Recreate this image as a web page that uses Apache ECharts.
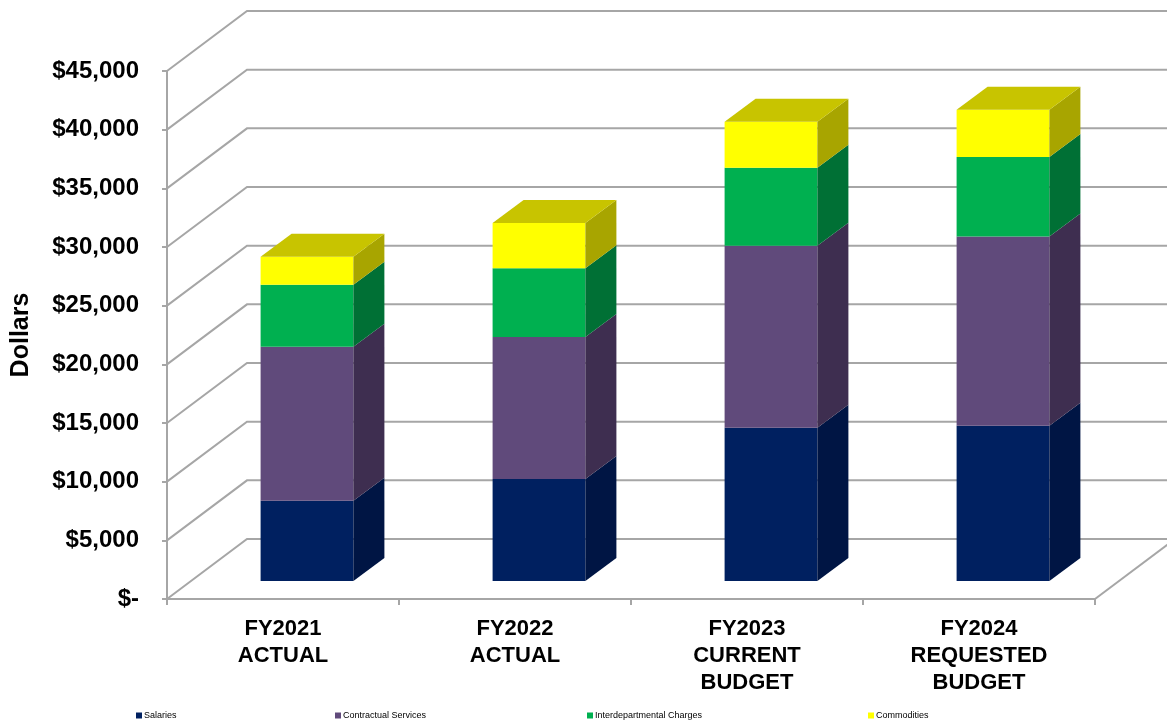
<!DOCTYPE html>
<html>
<head>
<meta charset="utf-8">
<script src="https://cdn.jsdelivr.net/npm/echarts@6/dist/echarts.min.js"></script>
<style>
html,body{margin:0;padding:0;background:#fff;}
#chart{width:1167px;height:725px;}
</style>
</head>
<body>
<div id="chart"></div>
<script>
// ---- data ----
const categories = ['FY2021\nACTUAL', 'FY2022\nACTUAL', 'FY2023\nCURRENT\nBUDGET', 'FY2024\nREQUESTED\nBUDGET'];
const seriesNames = ['Salaries', 'Contractual Services', 'Interdepartmental Charges', 'Commodities'];
const salaries = [6850, 8700, 13070, 13240];
const contractual = [13120, 12100, 15510, 16130];
const interdepartmental = [5280, 5860, 6650, 6760];
const commodities = [2390, 3860, 3920, 4040];
const yTicks = [0, 5000, 10000, 15000, 20000, 25000, 30000, 35000, 40000, 45000];

// ---- styling ----
const FRONT = ['#002060', '#604A7B', '#00B050', '#FFFF00'];
const SIDE = ['#001544', '#3E2E50', '#007035', '#A8A500'];
const TOP = ['#00184c', '#4a3860', '#008a40', '#C8C400'];
const WALL_DX = 80, WALL_DY = -60;      // depth of the 3D box
const BAR_FX = 24, BAR_FY = -18;        // offset of bar front face
const BAR_DX = 31, BAR_DY = -23;        // bar depth
const FONT = 'Liberation Sans, Arial, sans-serif';
const GRID_COLOR = '#a6a6a6';

const allSeries = [salaries, contractual, interdepartmental, commodities];
const stacked = allSeries.map((arr, s) => arr.map((v, i) => {
  let base = 0;
  for (let k = 0; k < s; k++) base += allSeries[k][i];
  return [i, base, base + v];
}));

const chart = echarts.init(document.getElementById('chart'), null, {renderer: 'canvas'});

function wallRender(params, api) {
  const cs = params.coordSys;
  const v = api.value(0);
  const y = api.coord([0, v])[1];
  const x0 = cs.x, x1 = cs.x + cs.width;
  const children = [{
    type: 'polyline',
    shape: {points: [[x0, y], [x0 + WALL_DX, y + WALL_DY], [x1 + WALL_DX, y + WALL_DY]]},
    style: {stroke: GRID_COLOR, lineWidth: 2, fill: null}
  }];
  if (v === 0) {
    children.push({
      type: 'line',
      shape: {x1: x1, y1: y, x2: x1 + WALL_DX, y2: y + WALL_DY},
      style: {stroke: GRID_COLOR, lineWidth: 2}
    });
  }
  return {type: 'group', children: children};
}

function makeBarRender(s) {
  return function (params, api) {
    const c = api.value(0), lo = api.value(1), hi = api.value(2);
    const pLo = api.coord([c, lo]);
    const pHi = api.coord([c, hi]);
    const bw = api.size([1, 0])[0] * 0.4;
    const xL = pLo[0] - bw / 2 + BAR_FX;
    const xR = xL + bw;
    const yB = pLo[1] + BAR_FY;
    const yT = pHi[1] + BAR_FY;
    const children = [
      {type: 'rect', shape: {x: xL, y: yT, width: bw, height: yB - yT}, style: {fill: FRONT[s]}},
      {type: 'polygon', shape: {points: [[xR, yB], [xR + BAR_DX, yB + BAR_DY], [xR + BAR_DX, yT + BAR_DY], [xR, yT]]}, style: {fill: SIDE[s]}}
    ];
    if (s === allSeries.length - 1) {
      children.push({type: 'polygon', shape: {points: [[xL, yT], [xL + BAR_DX, yT + BAR_DY], [xR + BAR_DX, yT + BAR_DY], [xR, yT]]}, style: {fill: TOP[s]}});
    }
    return {type: 'group', children: children};
  };
}

const legendLefts = [136, 335, 587, 868];

const option = {
  backgroundColor: '#ffffff',
  animation: false,
  grid: {left: 167, right: 72, top: 71, bottom: 126, containLabel: false},
  xAxis: {
    type: 'category',
    data: categories,
    axisLine: {show: true, lineStyle: {color: GRID_COLOR, width: 2}},
    axisTick: {show: true, length: 6, lineStyle: {color: GRID_COLOR, width: 2}},
    axisLabel: {interval: 0, margin: 16, color: '#000', fontFamily: FONT, fontWeight: 'bold', fontSize: 22, lineHeight: 27},
    splitLine: {show: false}
  },
  yAxis: {
    type: 'value',
    min: 0, max: 45000, interval: 5000,
    name: 'Dollars',
    nameLocation: 'middle',
    nameGap: 133,
    nameRotate: 90,
    nameTextStyle: {color: '#000', fontFamily: FONT, fontWeight: 'bold', fontSize: 25},
    axisLine: {show: true, lineStyle: {color: GRID_COLOR, width: 2}},
    axisTick: {show: true, length: 5, lineStyle: {color: GRID_COLOR, width: 2}},
    axisLabel: {
      margin: 28, color: '#000', fontFamily: FONT, fontWeight: 'bold', fontSize: 24,
      formatter: v => v === 0 ? '$-' : '$' + v.toLocaleString('en-US')
    },
    splitLine: {show: false}
  },
  legend: seriesNames.map((n, i) => ({
    data: [n],
    left: legendLefts[i],
    top: 711,
    icon: 'rect',
    itemWidth: 6,
    itemHeight: 6,
    itemGap: 2,
    padding: 0,
    selectedMode: false,
    textStyle: {fontSize: 9, color: '#000', fontFamily: 'Liberation Sans Narrow, Arial Narrow, ' + FONT, padding: [0, 0, 0, -3]}
  })),
  series: [
    {
      type: 'custom',
      name: 'wall',
      z: 1,
      clip: false,
      silent: true,
      renderItem: wallRender,
      data: yTicks.map(v => [v]),
      encode: {y: 0}
    }
  ].concat(seriesNames.map((n, s) => ({
    type: 'custom',
    name: n,
    z: 2 + s,
    clip: false,
    itemStyle: {color: FRONT[s]},
    renderItem: makeBarRender(s),
    encode: {x: 0, y: [1, 2]},
    data: stacked[s]
  })))
};

chart.setOption(option);
</script>
</body>
</html>
